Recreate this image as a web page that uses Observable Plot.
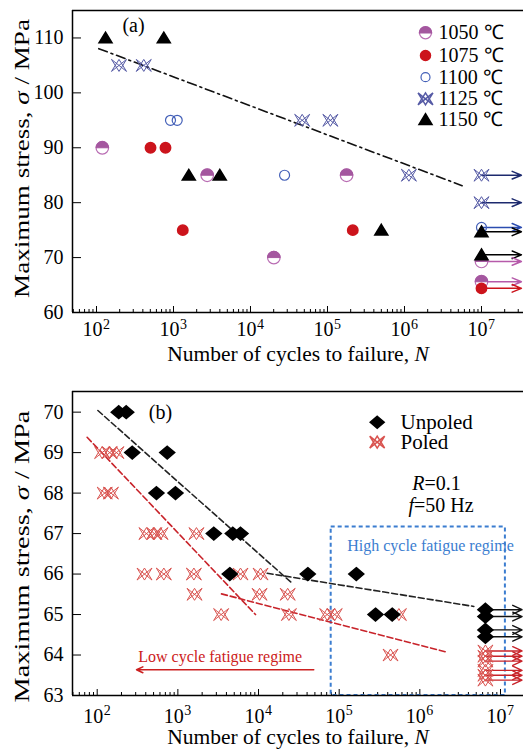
<!DOCTYPE html>
<html><head><meta charset="utf-8">
<script src="https://cdn.jsdelivr.net/npm/d3@7"></script>
<script src="https://cdn.jsdelivr.net/npm/@observablehq/plot@0.6"></script>
<style>
body{margin:0;background:#fff;width:523px;height:751px;overflow:hidden;position:relative}
#a,#b{position:absolute;left:0}
#a{top:0}#b{top:370px}
svg{display:block}
</style></head><body><div id="a"></div><div id="b"></div>
<script>
// ---------- tick labels / axis text ----------
const xTickExp = [2, 3, 4, 5, 6, 7];
const yTicksA = [60, 70, 80, 90, 100, 110];
const yTicksB = [63, 64, 65, 66, 67, 68, 69, 70];
const xLabel = "Number of cycles to failure, N";
const yLabel = "Maximum stress, σ / MPa";

// ---------- panel (a) data ----------
const seriesA = ["1050 ℃", "1075 ℃", "1100 ℃", "1125 ℃", "1150 ℃"];
const a1050N = [119, 2740, 1.77e5, 20100];
const a1050S = [90, 85, 85, 70];
const a1050Run = [69.3, 65.6];
const a1075N = [503, 787, 1320, 2.13e5];
const a1075S = [90, 90, 75, 75];
const a1075Run = [64.4];
const a1100N = [914, 1117, 27700];
const a1100S = [95, 95, 85];
const a1100Run = [75.5];
const a1125N = [196, 411, 46900, 1.09e5, 1.14e6];
const a1125S = [105, 105, 95, 95, 85];
const a1125Run = [85, 80];
const a1150N = [131, 748, 1580, 3990, 5.0e5];
const a1150S = [110, 110, 85, 85, 75];
const a1150Run = [74.7, 70.5];
const fitAN = [107, 5.6e6];
const fitAS = [108.05, 83.1];
const runoutNA = 1e7, arrowEndNA = 3.3e7;

// ---------- panel (b) data ----------
const seriesB = ["Unpoled", "Poled"];
const unpN = [185, 229, 272, 738, 543, 935, 2790, 4800, 5980, 4400, 40800, 1.63e5, 2.82e5, 4.54e5];
const unpS = [70, 70, 69, 69, 68, 68, 67, 67, 67, 66, 66, 66, 65, 65];
const unpRun = [65.12, 64.95, 64.62, 64.45];
const polN = [115, 143, 173, 124, 148, 408, 513, 610, 1700, 386, 670, 1580, 5980, 10600, 1610, 10300, 23000, 3440, 23800, 71000, 88000, 5.5e5, 4.33e5];
const polS = [69, 69, 69, 68, 68, 67, 67, 67, 67, 66, 66, 66, 66, 66, 65.5, 65.5, 65.5, 65, 65, 65, 65, 65, 64];
const polRun = [64.1, 63.97, 63.85, 63.62, 63.5, 63.38];
const blk1N = [102, 26200], blk1S = [70.04, 65.77];
const blk2N = [12800, 4.67e6], blk2S = [66.02, 65.2];
const red1N = [75, 9180], red1S = [69.38, 65.0];
const red2N = [3475, 2.18e6], red2S = [65.51, 64.07];
const runoutNB = 6.5e6, arrowEndNB = 1.85e7;
const hcfBox = {x1: 79600, x2: 1.15e7, y1: 63.0, y2: 67.16};
const lcfArrow = {x1: 48400, x2: 307, y: 63.635};
const hcfText = "High cycle fatigue regime";
const lcfText = "Low cycle fatigue regime";
const condR = "R=0.1", condF = "f=50 Hz";

// ---------- helpers ----------
const rowsOf = (N, S) => N.map((n, i) => ({N: n, S: S[i]}));
const runOf = (S, n) => S.map(s => ({N: n, S: s}));
const FONT = '"Liberation Serif","Times New Roman",serif';
const minorTicks = (lo, hi) => {
  const out = [];
  for (let k = 1; k <= 7; k++) for (let m = 2; m <= 9; m++) { const v = m * 10 ** k; if (v > lo && v < hi) out.push(v); }
  return out;
};
const halfTop = {draw(c, size){ const r = Math.sqrt(size/Math.PI); c.moveTo(r,0); c.arc(0,0,r,0,Math.PI,true); c.closePath(); }};
const tri = {draw(c, size){ const r = Math.sqrt(size/Math.PI); c.moveTo(0,-0.9*r); c.lineTo(r,0.75*r); c.lineTo(-r,0.75*r); c.closePath(); }};
const star = {draw(c, size){ const r = Math.sqrt(size/Math.PI), h = 0.8*r;
  c.moveTo(-r,-h); c.lineTo(r,h); c.moveTo(-r,h); c.lineTo(r,-h);
  c.moveTo(-r,h); c.lineTo(0,-h); c.lineTo(r,h);
  c.moveTo(-r,-h); c.lineTo(0,h); c.lineTo(r,-h); }};
const diam = {draw(c, size){ const r = Math.sqrt(size/Math.PI); c.moveTo(0,-0.85*r); c.lineTo(r,0); c.lineTo(0,0.85*r); c.lineTo(-r,0); c.closePath(); }};

const C = {
  m1050f: "#a4579f", m1050s: "#b96db3", m1050a: "#b65aaa",
  r1075: "#cc141c",
  b1100: "#4460b8", b1100a: "#2b4cb0",
  n1125: "#555aa5", n1125a: "#1d2a6e",
  k1150: "#000",
  poled: "#d9534f", redLine: "#c8232a", blue: "#3b7dd0"
};

function axisMarks(xDom, yTicks, plotW, plotH, tickDy, supDy, labDy) {
  return [
    Plot.ruleX(minorTicks(xDom[0], xDom[1]), {x: d => d, insetTop: plotH - 3, stroke: "black", strokeWidth: 1}),
    Plot.ruleX(xTickExp.map(e => 10 ** e), {x: d => d, insetTop: plotH - 6, stroke: "black", strokeWidth: 1}),
    Plot.ruleY(yTicks, {y: d => d, insetRight: plotW - 9, stroke: "black", strokeWidth: 1}),
    Plot.text(xTickExp, {x: e => 10 ** e, frameAnchor: "bottom", lineAnchor: "middle", dy: tickDy, dx: 6, text: () => "10", textAnchor: "end", fontSize: 20}),
    Plot.text(xTickExp, {x: e => 10 ** e, frameAnchor: "bottom", lineAnchor: "middle", dy: supDy, dx: 6.5, text: e => String(e), textAnchor: "start", fontSize: 14}),
    Plot.text(yTicks, {y: d => d, frameAnchor: "left", lineAnchor: "middle", dx: -9, text: d => String(d), textAnchor: "end", fontSize: 20}),
    Plot.text([xLabel], {frameAnchor: "bottom", lineAnchor: "middle", textAnchor: "middle", dy: labDy, text: d => d, fontSize: 21.5}),
  ];
}
function frameMarks(xDom, yDom) {
  return [
    Plot.ruleY([yDom[0]], {stroke: "black", strokeWidth: 1.5}),
    Plot.ruleY([yDom[1]], {stroke: "black", strokeWidth: 1.5}),
    Plot.ruleX([xDom[0]], {stroke: "black", strokeWidth: 1.5}),
  ];
}
const at = (dx, dy, o) => ({frameAnchor: "top-left", lineAnchor: "middle", dx, dy, ...o});

// ---------- panel (a) ----------
const xDomA = [10 ** 1.6883, 10 ** 7.5455];
const yDomA = [60, 115];
const arrowsA = (S, stroke) => Plot.arrow(runOf(S, runoutNA), {x1: "N", y1: "S", x2: () => arrowEndNA, y2: "S", stroke, strokeWidth: 1.5, headLength: 10, headAngle: 45});
const legY = [22.3, 45, 66.7, 88.3, 109];
const chartA = Plot.plot({
  width: 523, height: 370, marginTop: 10, marginBottom: 58, marginLeft: 72, marginRight: 0,
  x: {type: "log", domain: xDomA, axis: null},
  y: {domain: yDomA, axis: null},
  style: {fontFamily: FONT, fontSize: "20px", color: "black", background: "white", overflow: "visible"},
  marks: [
    ...axisMarks(xDomA, yTicksA, 451, 302, 17.5, 12.5, 42),
    Plot.line(rowsOf(fitAN, fitAS), {x: "N", y: "S", stroke: "#111", strokeWidth: 1.6, strokeDasharray: "9,4,2,4"}),
    arrowsA(a1125Run, C.n1125a), arrowsA(a1100Run, C.b1100a), arrowsA(a1150Run, C.k1150), arrowsA(a1050Run, C.m1050a), arrowsA(a1075Run, C.r1075),
    Plot.dot([...rowsOf(a1050N, a1050S), ...runOf(a1050Run, runoutNA)], {x: "N", y: "S", r: 6.3, fill: "white", stroke: C.m1050s, strokeWidth: 1.2}),
    Plot.dot([...rowsOf(a1050N, a1050S), ...runOf(a1050Run, runoutNA)], {x: "N", y: "S", r: 6.3, symbol: halfTop, fill: C.m1050f, stroke: C.m1050f, strokeWidth: 1}),
    Plot.dot([...rowsOf(a1075N, a1075S), ...runOf(a1075Run, runoutNA)], {x: "N", y: "S", r: 5.2, fill: C.r1075, stroke: C.r1075}),
    Plot.dot([...rowsOf(a1100N, a1100S), ...runOf(a1100Run, runoutNA)], {x: "N", y: "S", r: 5, fill: "none", stroke: C.b1100, strokeWidth: 1.2}),
    Plot.dot([...rowsOf(a1125N, a1125S), ...runOf(a1125Run, runoutNA)], {x: "N", y: "S", r: 7.5, symbol: star, fill: "none", stroke: C.n1125, strokeWidth: 1}),
    Plot.dot([...rowsOf(a1150N, a1150S), ...runOf(a1150Run, runoutNA)], {x: "N", y: "S", r: 6.5, symbol: tri, fill: "black", stroke: "black"}),
    // legend
    Plot.dot([0], at(353, legY[0], {r: 6, fill: "white", stroke: C.m1050s, strokeWidth: 1.2})),
    Plot.dot([0], at(353, legY[0], {r: 6, symbol: halfTop, fill: C.m1050f, stroke: C.m1050f})),
    Plot.dot([0], at(353, legY[1], {r: 5, fill: C.r1075, stroke: C.r1075})),
    Plot.dot([0], at(353, legY[2], {r: 4.5, fill: "none", stroke: C.b1100, strokeWidth: 1.2})),
    Plot.dot([0], at(353, legY[3], {r: 7.5, symbol: star, fill: "none", stroke: C.n1125})),
    Plot.dot([0], at(353, legY[4], {r: 6.5, symbol: tri, fill: "black", stroke: "black"})),
    ...seriesA.map((s, i) => Plot.text([s], at(366, legY[i], {text: d => d, textAnchor: "start", fontSize: 20}))),
    Plot.text(["(a)"], at(61, 15, {text: d => d, textAnchor: "middle", fontSize: 20})),
    Plot.text([yLabel], {frameAnchor: "left", lineAnchor: "middle", textAnchor: "middle", dx: -50, dy: -3, rotate: -90, text: d => d, fontSize: 21}),
    ...frameMarks(xDomA, yDomA),
  ]
});

// ---------- panel (b) ----------
const xDomB = [10 ** 1.6938, 10 ** 7.2851];
const yDomB = [63, 70.51];
const arrowsB = (S, stroke) => Plot.arrow(runOf(S, runoutNB), {x1: "N", y1: "S", x2: () => arrowEndNB, y2: "S", stroke, strokeWidth: 1.4, headLength: 11, headAngle: 50});
const chartB = Plot.plot({
  width: 523, height: 381, marginTop: 21, marginBottom: 56, marginLeft: 72, marginRight: 0,
  x: {type: "log", domain: xDomB, axis: null},
  y: {domain: yDomB, axis: null},
  style: {fontFamily: FONT, fontSize: "20px", color: "black", background: "white", overflow: "visible"},
  marks: [
    ...axisMarks(xDomB, yTicksB, 451, 304, 21, 15, 42),
    Plot.rect([hcfBox], {x1: "x1", x2: "x2", y1: "y1", y2: "y2", fill: "none", stroke: C.blue, strokeWidth: 2, strokeDasharray: "4,3"}),
    Plot.line(rowsOf(blk1N, blk1S), {x: "N", y: "S", stroke: "#222", strokeWidth: 1.6, strokeDasharray: "6,3"}),
    Plot.line(rowsOf(blk2N, blk2S), {x: "N", y: "S", stroke: "#222", strokeWidth: 1.6, strokeDasharray: "6,3"}),
    Plot.line(rowsOf(red1N, red1S), {x: "N", y: "S", stroke: C.redLine, strokeWidth: 1.6, strokeDasharray: "6,3"}),
    Plot.line(rowsOf(red2N, red2S), {x: "N", y: "S", stroke: C.redLine, strokeWidth: 1.6, strokeDasharray: "6,3"}),
    arrowsB(unpRun, "#111"), arrowsB(polRun, C.redLine),
    Plot.dot([...rowsOf(polN, polS), ...runOf(polRun, runoutNB)], {x: "N", y: "S", r: 7.5, symbol: star, fill: "none", stroke: C.poled, strokeWidth: 1}),
    Plot.dot([...rowsOf(unpN, unpS), ...runOf(unpRun, runoutNB)], {x: "N", y: "S", r: 7.5, symbol: diam, fill: "black", stroke: "black"}),
    // legend
    Plot.dot([0], at(304.7, 30.7, {r: 7, symbol: diam, fill: "black", stroke: "black"})),
    Plot.dot([0], at(304.7, 50.7, {r: 7.5, symbol: star, fill: "none", stroke: C.poled})),
    ...seriesB.map((s, i) => Plot.text([s], at(328, 30.7 + 20 * i, {text: d => d, textAnchor: "start", fontSize: 21}))),
    Plot.text(["(b)"], at(88, 20.7, {text: d => d, textAnchor: "middle", fontSize: 20})),
    Plot.text([condR], at(339.7, 92.3, {text: d => d, textAnchor: "start", fontSize: 20})),
    Plot.text([condF], at(336, 114, {text: d => d, textAnchor: "start", fontSize: 20})),
    Plot.text([hcfText], at(274.7, 154, {text: d => d, textAnchor: "start", fontSize: 16, fill: C.blue})),
    Plot.text([lcfText], at(65.7, 265.7, {text: d => d, textAnchor: "start", fontSize: 16, fill: "#cc2020"})),
    Plot.arrow([lcfArrow], {x1: "x1", x2: "x2", y1: "y", y2: "y", stroke: "#cc2020", strokeWidth: 1.5, headLength: 7, headAngle: 50}),
    Plot.text([yLabel], {frameAnchor: "left", lineAnchor: "middle", textAnchor: "middle", dx: -50, dy: 13, rotate: -90, text: d => d, fontSize: 21}),
    ...frameMarks(xDomB, yDomB),
  ]
});

document.getElementById("a").append(chartA);
document.getElementById("b").append(chartB);

// italic parts; stretch y-label along its direction to the reference length
function fix(svg, yLen) {
  svg.querySelectorAll("text").forEach(t => {
    const s = t.textContent;
    if (s === xLabel) t.innerHTML = xLabel.slice(0, -1) + '<tspan font-style="italic">N</tspan>';
    else if (s === yLabel) {
      t.innerHTML = yLabel.replace("σ", '<tspan font-style="italic">σ</tspan>');
      const len = t.getComputedTextLength();
      const k = len > 0 ? yLen / len : 1;
      const tr = t.getAttribute("transform") || "";
      t.setAttribute("transform", tr + ` scale(${k.toFixed(3)},1)`);
    }
    else if (s === condR) t.innerHTML = '<tspan font-style="italic">R</tspan>' + condR.slice(1);
    else if (s === condF) t.innerHTML = '<tspan font-style="italic">f</tspan>' + condF.slice(1);
  });
}
fix(chartA, 279);
fix(chartB, 292);
</script></body></html>
